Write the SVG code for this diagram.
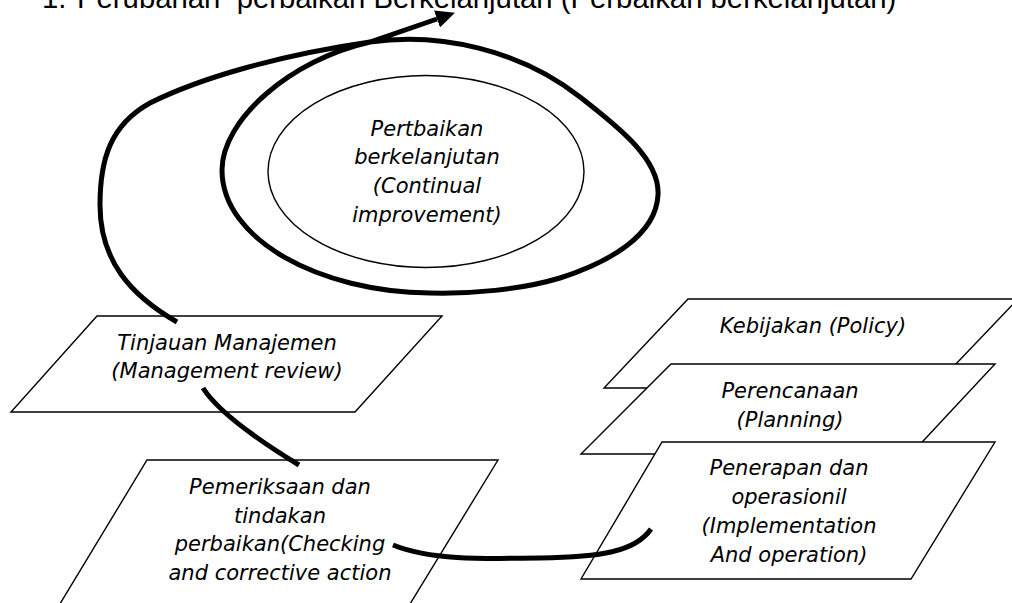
<svg xmlns="http://www.w3.org/2000/svg" width="1012" height="603" viewBox="0 0 1012 603">
<style>
.shape{fill:#fff;stroke:#000;stroke-width:1.4}
.lbl{font-family:"DejaVu Sans",Verdana,sans-serif;font-style:italic;font-size:21px;fill:#000;text-anchor:middle}
.title{font-family:"Liberation Sans",Arial,sans-serif;font-size:29.3px;fill:#000;white-space:pre}
.conn{fill:none;stroke:#000;stroke-width:5}
</style>
<defs>
<marker id="arrow" markerUnits="userSpaceOnUse" markerWidth="20" markerHeight="18" refX="0" refY="9" viewBox="0 0 20 18" orient="auto">
<path d="M0,0 L19,9 L0,18 Z" fill="#000"/>
</marker>
</defs>
<rect width="1012" height="603" fill="#fff"/>
<g id="title">
<text class="title" x="42" y="8">1.</text>
<text class="title" x="77" y="8">Perubahan  perbaikan Berkelanjutan (Perbaikan berkelanjutan)</text>
</g>
<g id="node-continual-improvement">
<ellipse class="shape" cx="426" cy="171.5" rx="158" ry="96"/>
<text class="lbl" x="427" y="136">Pertbaikan</text>
<text class="lbl" x="427" y="164">berkelanjutan</text>
<text class="lbl" x="427" y="193">(Continual</text>
<text class="lbl" x="427" y="222">improvement)</text>
</g>
<g id="node-tinjauan">
<polygon class="shape" points="97,316 442,316 355,412 11,412"/>
<text class="lbl" x="227" y="350">Tinjauan Manajemen</text>
<text class="lbl" x="227" y="378">(Management review)</text>
</g>
<g id="node-pemeriksaan">
<polygon class="shape" points="147,460 498,460 399,622 49,622"/>
<text class="lbl" x="280" y="494">Pemeriksaan dan</text>
<text class="lbl" x="280" y="523">tindakan</text>
<text class="lbl" x="280" y="551">perbaikan(Checking</text>
<text class="lbl" x="280" y="580">and corrective action</text>
</g>
<g id="node-kebijakan">
<polygon class="shape" points="688,299 1018,299 933,388 604,388"/>
<text class="lbl" x="813" y="333">Kebijakan (Policy)</text>
</g>
<g id="node-perencanaan">
<polygon class="shape" points="671,364 995,364 911,454 581,454"/>
<text class="lbl" x="790" y="398">Perencanaan</text>
<text class="lbl" x="790" y="427">(Planning)</text>
</g>
<g id="node-penerapan">
<polygon class="shape" points="662,442 995,442 911,579 581,579"/>
<text class="lbl" x="789" y="475">Penerapan dan</text>
<text class="lbl" x="789" y="504">operasionil</text>
<text class="lbl" x="789" y="533">(Implementation</text>
<text class="lbl" x="789" y="562">And operation)</text>
</g>
<g id="connectors">
<path class="conn" marker-end="url(#arrow)" d="M177,322 C130,295 100,260 100,205 C100,160 110,125 150,103 C200,78 280,55 370,42 C440,32 520,50 580,97 C620,128 660,160 658,195 C656,235 610,262 560,278 C520,290 470,294 430,293 C320,292 222,240 222,170 C222,120 290,60 370,42 L437,19"/>
<path class="conn" d="M203,388 Q222,418 299,465"/>
<path class="conn" d="M393,545 C430,560 480,559 540,558 C600,557 635,552 651,529"/>
</g>
</svg>
